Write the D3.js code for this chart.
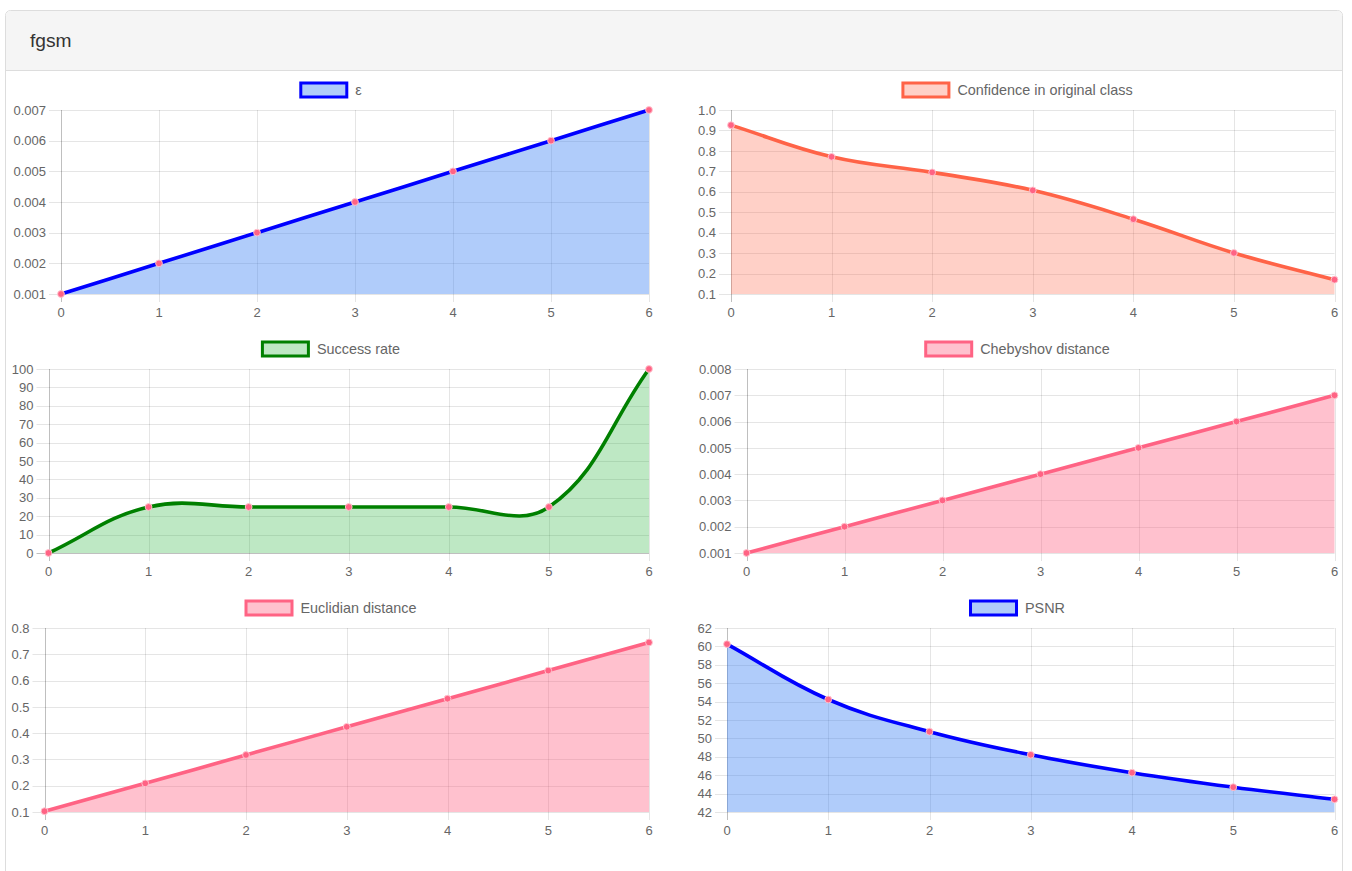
<!DOCTYPE html>
<html>
<head>
<meta charset="utf-8">
<title>fgsm</title>
<script src="https://cdn.jsdelivr.net/npm/d3@7"></script>
<style>
  html, body { margin: 0; padding: 0; background: #fff; }
  body { width: 1352px; height: 871px; overflow: hidden; }
  svg { display: block; font-family: "Liberation Sans", Arial, Helvetica, sans-serif; }
</style>
</head>
<body>
<svg id="page" width="1352" height="871"></svg>
<script>
// ----- Data -----
const xLabels = ["0", "1", "2", "3", "4", "5", "6"];

const epsValues        = [0.001, 0.002, 0.003, 0.004, 0.005, 0.006, 0.007];
const confidenceValues = [0.926, 0.771, 0.695, 0.607, 0.466, 0.301, 0.170];
const successValues    = [0, 25, 25, 25, 25, 25, 100];
const chebyshovValues  = [0.001, 0.002, 0.003, 0.004, 0.005, 0.006, 0.007];
const euclidianValues  = [0.103, 0.209, 0.317, 0.424, 0.531, 0.638, 0.745];
const psnrValues       = [60.25, 54.23, 50.73, 48.22, 46.27, 44.70, 43.38];

// y tick labels (bottom -> top)
const epsTicks        = ["0.001", "0.002", "0.003", "0.004", "0.005", "0.006", "0.007"];
const confidenceTicks = ["0.1", "0.2", "0.3", "0.4", "0.5", "0.6", "0.7", "0.8", "0.9", "1.0"];
const successTicks    = ["0", "10", "20", "30", "40", "50", "60", "70", "80", "90", "100"];
const chebyshovTicks  = ["0.001", "0.002", "0.003", "0.004", "0.005", "0.006", "0.007", "0.008"];
const euclidianTicks  = ["0.1", "0.2", "0.3", "0.4", "0.5", "0.6", "0.7", "0.8"];
const psnrTicks       = ["42", "44", "46", "48", "50", "52", "54", "56", "58", "60", "62"];

// ----- Styles -----
const BLUE_LINE  = "#0000ff";
const BLUE_FILL  = "rgba(66,133,244,0.42)";
const PINK_LINE  = "#ff6384";
const PINK_FILL  = "rgba(255,99,132,0.4)";
const TEXT_COLOR = "#666";
const GRID_COLOR = "rgba(0,0,0,0.1)";
const ZERO_COLOR = "rgba(0,0,0,0.25)";

const charts = [
  { label: "ε", values: epsValues, ticks: epsTicks,
    line: BLUE_LINE, fill: BLUE_FILL,
    area: { left: 61, right: 649, top: 110, bottom: 294 }, legendX: 330.5, legendY: 90 },
  { label: "Confidence in original class", values: confidenceValues, ticks: confidenceTicks,
    line: "#ff6347", fill: "rgba(255,99,71,0.3)",
    area: { left: 731, right: 1334.5, top: 110, bottom: 294 }, legendX: 1017, legendY: 90 },
  { label: "Success rate", values: successValues, ticks: successTicks,
    line: "#008000", fill: "rgba(40,180,60,0.3)",
    area: { left: 48.5, right: 649, top: 369, bottom: 553 }, legendX: 330.5, legendY: 349 },
  { label: "Chebyshov distance", values: chebyshovValues, ticks: chebyshovTicks,
    line: PINK_LINE, fill: PINK_FILL,
    area: { left: 746.5, right: 1334.5, top: 369, bottom: 553 }, legendX: 1017, legendY: 349 },
  { label: "Euclidian distance", values: euclidianValues, ticks: euclidianTicks,
    line: PINK_LINE, fill: PINK_FILL,
    area: { left: 44.5, right: 649, top: 628, bottom: 812 }, legendX: 330.5, legendY: 608 },
  { label: "PSNR", values: psnrValues, ticks: psnrTicks,
    line: BLUE_LINE, fill: BLUE_FILL,
    area: { left: 727, right: 1334.5, top: 628, bottom: 812 }, legendX: 1017, legendY: 608 }
];

// ---------- Chart.js style spline (tension 0.4) ----------
function splinePoints(pts, tension, area) {
  const cap = (v, lo, hi) => Math.max(lo, Math.min(hi, v));
  return pts.map((cur, i) => {
    const prev = pts[Math.max(0, i - 1)];
    const next = pts[Math.min(pts.length - 1, i + 1)];
    const d01 = Math.hypot(cur[0] - prev[0], cur[1] - prev[1]);
    const d12 = Math.hypot(next[0] - cur[0], next[1] - cur[1]);
    let s01 = d01 / (d01 + d12);
    let s12 = d12 / (d01 + d12);
    if (isNaN(s01)) s01 = 0;
    if (isNaN(s12)) s12 = 0;
    const fa = tension * s01, fb = tension * s12;
    return {
      x: cur[0], y: cur[1],
      px: cap(cur[0] - fa * (next[0] - prev[0]), area.left, area.right),
      py: cap(cur[1] - fa * (next[1] - prev[1]), area.top, area.bottom),
      nx: cap(cur[0] + fb * (next[0] - prev[0]), area.left, area.right),
      ny: cap(cur[1] + fb * (next[1] - prev[1]), area.top, area.bottom)
    };
  });
}

function linePath(pts, tension, area) {
  const c = splinePoints(pts, tension, area);
  let d = `M${c[0].x},${c[0].y}`;
  for (let i = 1; i < c.length; i++) {
    d += `C${c[i - 1].nx},${c[i - 1].ny},${c[i].px},${c[i].py},${c[i].x},${c[i].y}`;
  }
  return d;
}

// ---------- Panel ----------
function drawPanel(svg) {
  svg.append("rect")
    .attr("x", 5.5).attr("y", 10.5)
    .attr("width", 1337).attr("height", 900)
    .attr("rx", 5).attr("ry", 5)
    .attr("fill", "#fff")
    .attr("stroke", "#ddd");

  svg.append("path")
    .attr("d", "M6,70 L6,16 Q6,11 11,11 L1337,11 Q1342,11 1342,16 L1342,70 Z")
    .attr("fill", "#f5f5f5");

  svg.append("line")
    .attr("x1", 6).attr("x2", 1342)
    .attr("y1", 70.5).attr("y2", 70.5)
    .attr("stroke", "#ddd");

  svg.append("text")
    .attr("x", 30).attr("y", 47)
    .attr("fill", "#333")
    .attr("font-size", 19.2)
    .text("fgsm");
}

// ---------- One line chart ----------
function drawChart(svg, spec) {
  const a = spec.area;
  const g = svg.append("g");

  const x = d3.scalePoint()
    .domain(xLabels)
    .range([a.left, a.right]);

  const tickVals = spec.ticks.map(Number);
  const y = d3.scaleLinear()
    .domain(d3.extent(tickVals))
    .range([a.bottom, a.top]);

  // horizontal grid + tick marks
  g.selectAll(".hgrid")
    .data(spec.ticks)
    .enter()
    .append("line")
    .attr("x1", a.left - 12)
    .attr("x2", a.right)
    .attr("y1", d => Math.round(y(+d)) + 0.5)
    .attr("y2", d => Math.round(y(+d)) + 0.5)
    .attr("stroke", d => +d === 0 ? ZERO_COLOR : GRID_COLOR);

  // vertical grid + tick marks
  g.selectAll(".vgrid")
    .data(xLabels)
    .enter()
    .append("line")
    .attr("x1", d => Math.round(x(d)) + 0.5)
    .attr("x2", d => Math.round(x(d)) + 0.5)
    .attr("y1", a.top)
    .attr("y2", a.bottom + 8)
    .attr("stroke", (d, i) => i === 0 ? ZERO_COLOR : GRID_COLOR);

  // y tick labels
  g.selectAll(".ylab")
    .data(spec.ticks)
    .enter()
    .append("text")
    .attr("x", a.left - 15)
    .attr("y", d => y(+d))
    .attr("dy", "0.36em")
    .attr("text-anchor", "end")
    .attr("fill", TEXT_COLOR)
    .attr("font-size", 13)
    .text(d => d);

  // x tick labels
  g.selectAll(".xlab")
    .data(xLabels)
    .enter()
    .append("text")
    .attr("x", d => x(d))
    .attr("y", a.bottom + 23)
    .attr("text-anchor", "middle")
    .attr("fill", TEXT_COLOR)
    .attr("font-size", 13)
    .text(d => d);

  // series
  const pts = spec.values.map((v, i) => [x(xLabels[i]), y(v)]);
  const curve = linePath(pts, 0.4, a);

  g.append("path")
    .attr("d", `${curve}L${pts[pts.length - 1][0]},${a.bottom}L${pts[0][0]},${a.bottom}Z`)
    .attr("fill", spec.fill);

  g.append("path")
    .attr("d", curve)
    .attr("fill", "none")
    .attr("stroke", spec.line)
    .attr("stroke-width", 3.6)
    .attr("stroke-linejoin", "round");

  g.selectAll(".pt")
    .data(pts)
    .enter()
    .append("circle")
    .attr("cx", d => d[0])
    .attr("cy", d => d[1])
    .attr("r", 3.4)
    .attr("fill", PINK_LINE)
    .attr("stroke", "rgba(255,200,210,0.9)")
    .attr("stroke-width", 1);

  // legend (centred over the chart)
  const leg = g.append("g");
  const box = leg.append("rect")
    .attr("width", 46)
    .attr("height", 14)
    .attr("fill", spec.fill)
    .attr("stroke", spec.line)
    .attr("stroke-width", 3);
  const label = leg.append("text")
    .attr("fill", TEXT_COLOR)
    .attr("font-size", 14.4)
    .attr("dy", "0.36em")
    .text(spec.label);

  const textW = label.node().getComputedTextLength();
  const total = 49 + 7 + textW;
  const start = spec.legendX - total / 2;
  box.attr("x", start + 1.5).attr("y", spec.legendY - 7);
  label.attr("x", start + 56).attr("y", spec.legendY);
}

// ---------- Render ----------
document.addEventListener("DOMContentLoaded", () => {
  const svg = d3.select("#page");
  drawPanel(svg);
  charts.forEach(spec => drawChart(svg, spec));
});
</script>
</body>
</html>
